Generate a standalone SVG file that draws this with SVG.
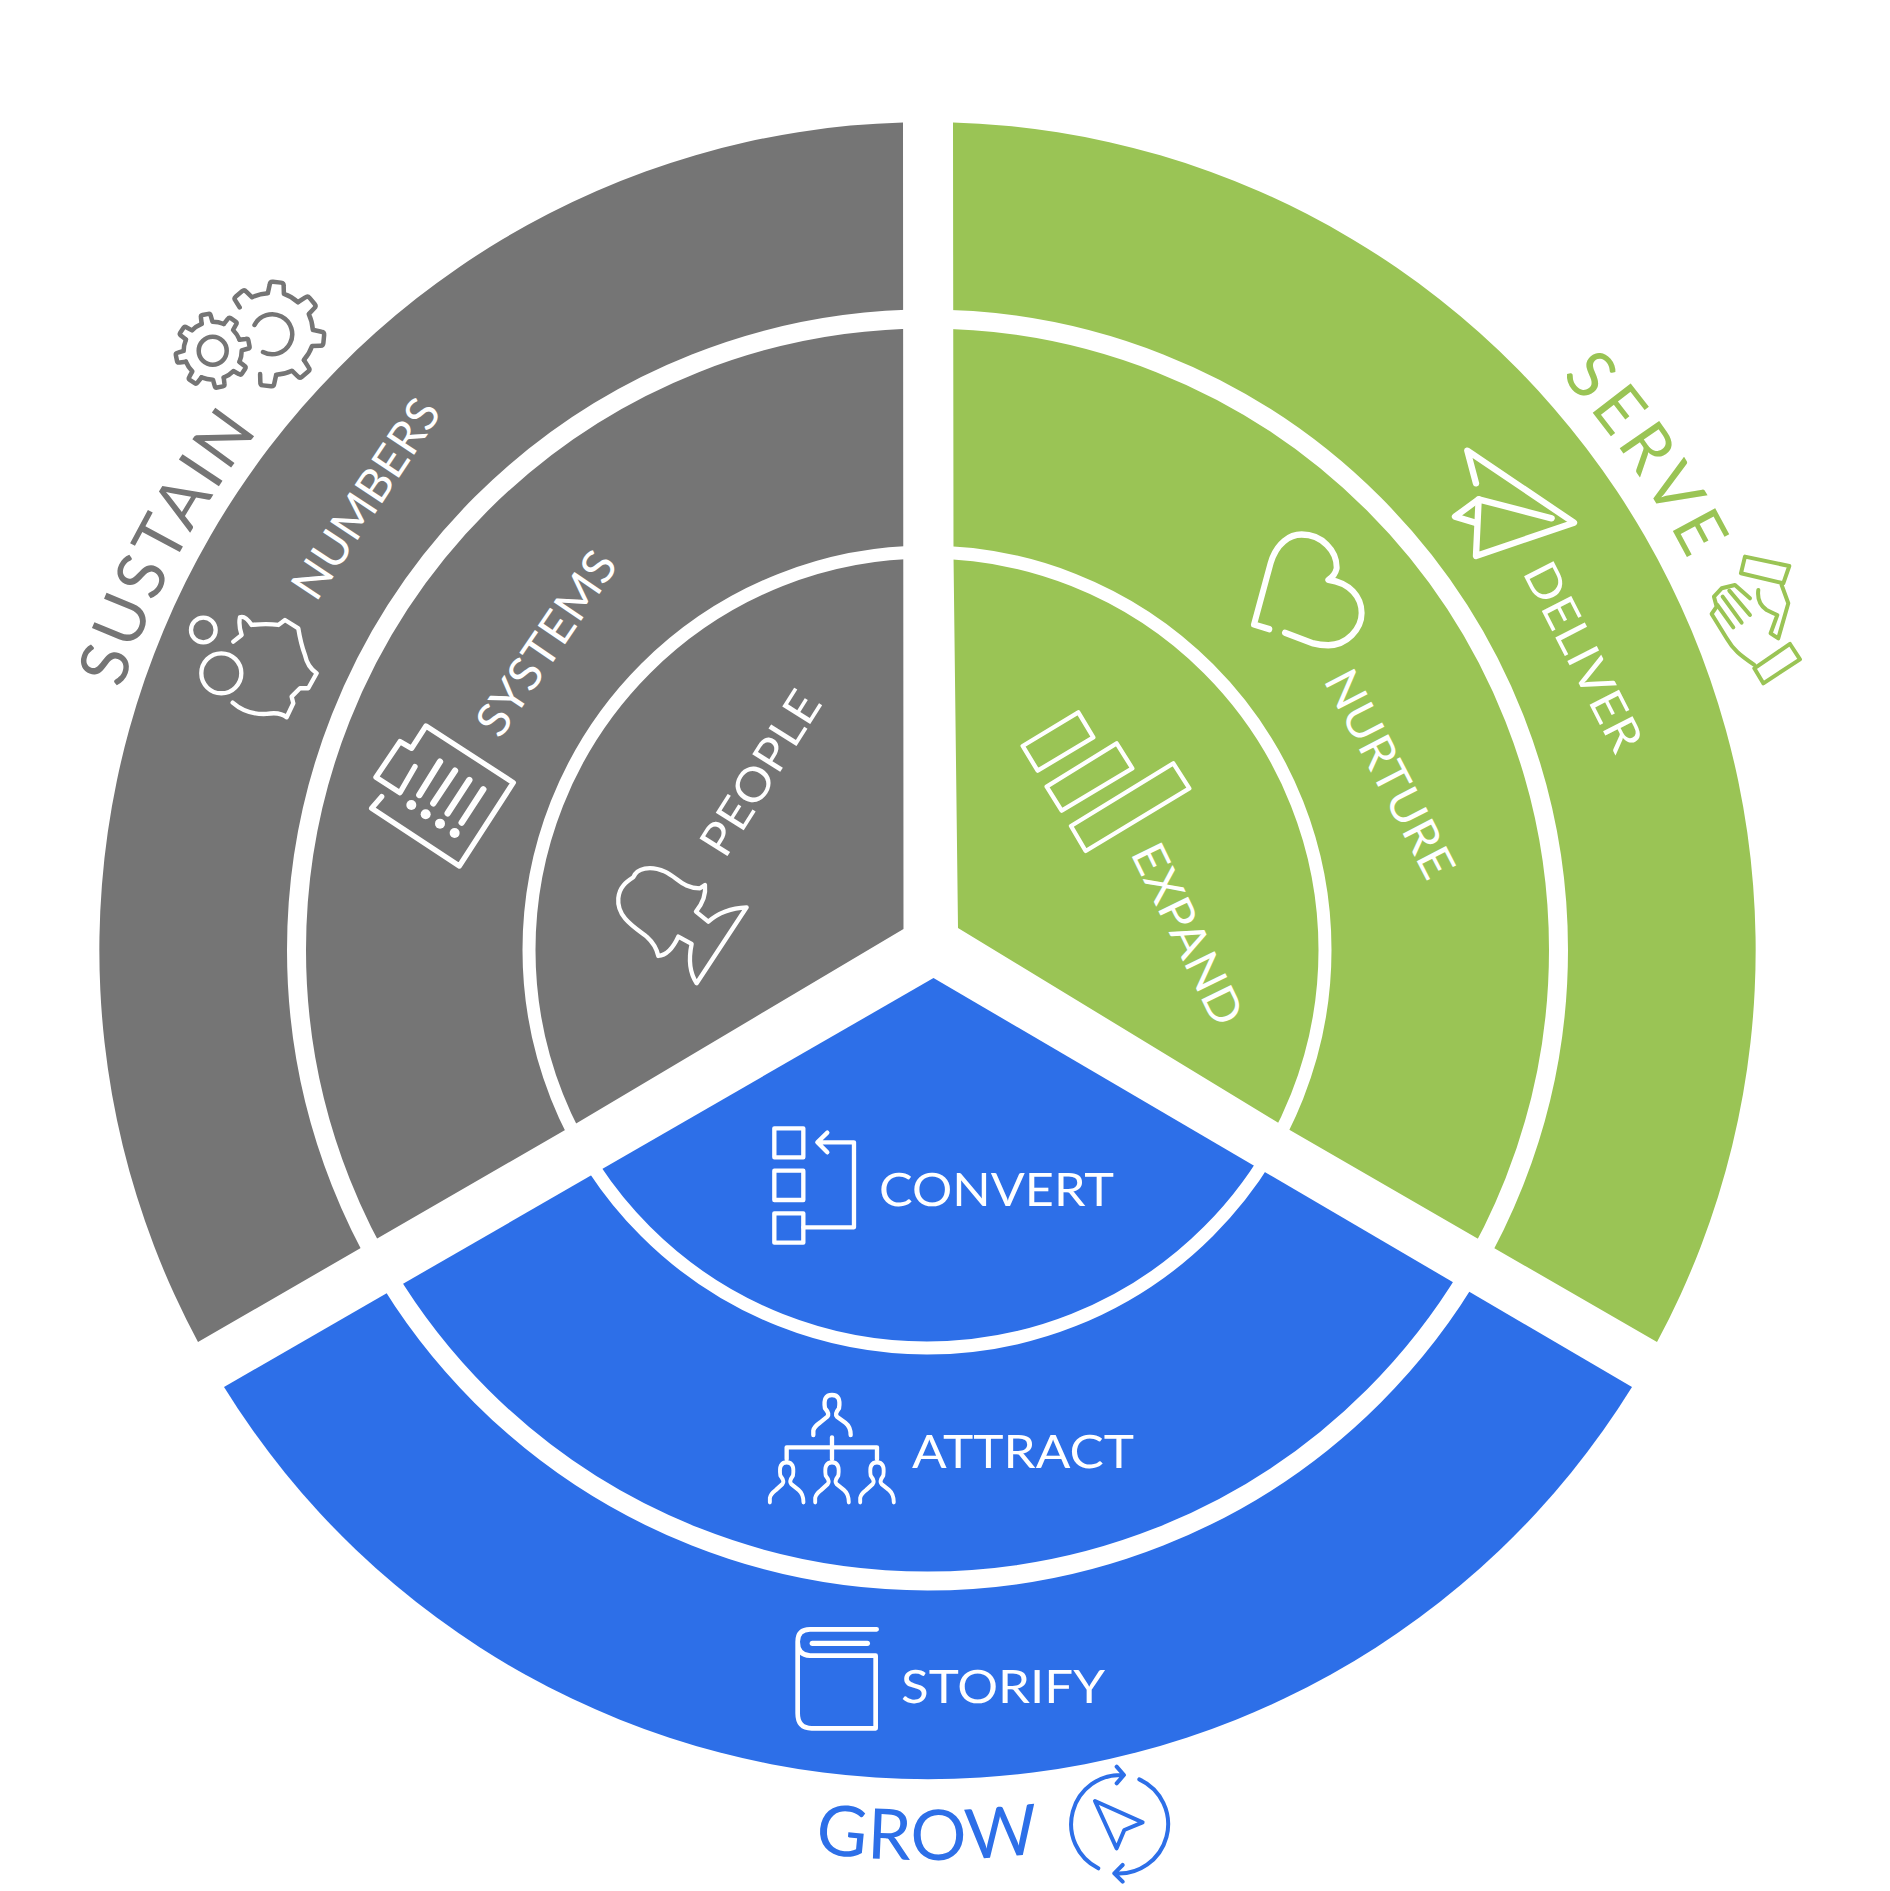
<svg xmlns="http://www.w3.org/2000/svg" xmlns:xlink="http://www.w3.org/1999/xlink" width="1890" height="1891" viewBox="0 0 1890 1891">
<style>
.w{fill:none;stroke:#fff;stroke-linecap:round;stroke-linejoin:round}
.g{fill:none;stroke:#757575;stroke-width:4.5;stroke-linecap:round;stroke-linejoin:round}
.gr{fill:none;stroke:#9ac455;stroke-linecap:round;stroke-linejoin:round}
.bl{fill:none;stroke:#2d6fe8;stroke-linecap:round;stroke-linejoin:round}
.t{font-family:Lato,"Liberation Sans",sans-serif;font-weight:400;font-size:46px;fill:#fff}
.o{font-family:Lato,"Liberation Sans",sans-serif;font-weight:400;font-size:67px}
text{text-rendering:geometricPrecision}
</style>
<defs>
<path id="arcTop850" d="M80.5,950A847,847 0 0 1 1774.5,950"/>
<path id="arcTop855" d="M72.5,950A855,855 0 0 1 1782.5,950"/>
<path id="arcBot910" d="M17.5,950A910,910 0 0 0 1837.5,950"/>
<path id="gearBig" d="M-8,-41L-7,-49Q-7,-52 -4,-52L4,-52Q7,-52 7,-49L8,-41A41,41 0 0 1 22.8,-34.1"/>
<path id="toothBig" d="M-8,-41L-7,-49Q-7,-52 -4,-52L4,-52Q7,-52 7,-49L8,-41"/>
<path id="gearSmall" d="M-5.5,-28.5L-5,-34.5Q-5,-37 -3,-37L3,-37Q5,-37 5,-34.5L5.5,-28.5A29,29 0 0 1 16.25,-24"/>
<path id="person" d="M220,1005V992Q222,980 240,968L262,950Q270,942 255,925Q248,885 276,885Q304,885 297,925Q283,942 291,950L316,968Q332,980 332,1005"/>
</defs>
<g id="sectors">
<path id="sector-sustain" fill="#757575" d="M903.5,929L566,1129.5L572,1126L198,1342A828,828 0 0 1 903,122.4Z"/>
<path id="sector-serve" fill="#9ac455" d="M953,122.4A828,828 0 0 1 1657,1342L1288,1129L1277,1122L958,928L953.5,555Z"/>
<path id="sector-grow" fill="#2d6fe8" d="M933.5,978L1632,1387A828,828 0 0 1 224,1387Z"/>
<circle cx="927.5" cy="950" r="631" fill="none" stroke="#fff" stroke-width="19"/>
<circle cx="927" cy="950" r="398" fill="none" stroke="#fff" stroke-width="13"/>
</g>
<g id="sustain">
<text class="o" fill="#757575"><textPath xlink:href="#arcTop850" href="#arcTop850" startOffset="265" letter-spacing="3.5">SUSTAIN</textPath></text>
<g transform="translate(272,334)" class="g">
<use href="#gearBig" transform="rotate(320.5)"/><use href="#gearBig" transform="rotate(5.5)"/><use href="#gearBig" transform="rotate(50.5)"/><use href="#gearBig" transform="rotate(95.5)"/><use href="#gearBig" transform="rotate(140.5)"/><use href="#toothBig" transform="rotate(185.5)"/>
<path d="M-17.5,-9A20,20 0 1 1 -9,18"/>
</g>
<g transform="translate(212.7,350.7)" class="g">
<use href="#gearSmall" transform="rotate(-11.4)"/><use href="#gearSmall" transform="rotate(33.6)"/><use href="#gearSmall" transform="rotate(78.6)"/><use href="#gearSmall" transform="rotate(123.6)"/><use href="#gearSmall" transform="rotate(168.6)"/><use href="#gearSmall" transform="rotate(213.6)"/><use href="#gearSmall" transform="rotate(258.6)"/><use href="#gearSmall" transform="rotate(303.6)"/>
<circle r="14"/>
</g>
</g>
<g id="numbers">
<text class="t" transform="translate(316,603) rotate(-56.5)" textLength="229" lengthAdjust="spacingAndGlyphs">NUMBERS</text>
<g transform="translate(60,260) scale(.3333)" class="w" stroke-width="13">
<circle cx="430" cy="1110" r="37"/><circle cx="484" cy="1240" r="60"/>
<path d="M520,1145L545,1125Q535,1095 540,1072Q555,1065 575,1095Q620,1090 655,1095L675,1080L715,1105Q722,1150 735,1185Q742,1220 770,1240L745,1285L720,1285L695,1310L700,1330L680,1372Q660,1355 620,1362Q560,1365 518,1328"/>
</g>
</g>
<g id="systems">
<text class="t" transform="translate(500,740) rotate(-55.8)" textLength="212" lengthAdjust="spacingAndGlyphs">SYSTEMS</text>
<g transform="translate(350,540) scale(.3333)" class="w" stroke-width="16">
<path d="M95,770L65,805L328,978L490,728L228,558L185,625L150,605L78,712L150,758L195,680"/>
<path stroke-width="19" d="M208,765L270,665M250,790L315,692M293,820L358,720M335,848L400,748"/>
<g fill="#fff" stroke="none"><circle cx="184" cy="795" r="15"/><circle cx="227" cy="823" r="15"/><circle cx="270" cy="851" r="15"/><circle cx="314" cy="879" r="15"/></g>
</g>
</g>
<g id="people">
<text class="t" transform="translate(725,860) rotate(-57.9)" textLength="185" lengthAdjust="spacingAndGlyphs">PEOPLE</text>
<g transform="translate(350,540) scale(.3333)" class="w" stroke-width="13">
<path d="M925,1248Q918,1215 890,1190C850,1160 800,1130 805,1075C808,1040 830,1025 850,1012C860,985 900,975 945,995C985,1015 1000,1045 1050,1045L1065,1035Q1070,1075 1038,1115L1075,1145Q1120,1105 1190,1102L1040,1330C1020,1300 1015,1260 1025,1212L985,1190Q960,1245 925,1248Z"/>
</g>
</g>
<g id="serve">
<text class="o" fill="#9ac455"><textPath xlink:href="#arcTop855" href="#arcTop855" startOffset="2056" letter-spacing="6">SERVE</textPath></text>
<g transform="translate(1420,340) scale(.3333)" class="gr" stroke-width="12">
<path d="M975,650L1108,678L1090,730L963,700Z"/>
<path d="M1110,912L1140,958L1030,1030L1003,985Z"/>
<path d="M1003,975C960,945 940,930 920,895L875,822L890,800L882,770L905,745L945,735L990,775"/>
<path d="M892,795L940,862M908,770L965,848M928,752L990,825"/>
<path d="M1015,750Q1010,790 1040,810Q1060,820 1072,825L1052,880L1075,895L1105,790L1085,735"/>
</g>
</g>
<g id="deliver">
<text class="t" transform="translate(1522,572) rotate(63)" textLength="206" lengthAdjust="spacingAndGlyphs">DELIVER</text>
<g transform="translate(1420,340) scale(.3333)" class="w" stroke-width="19">
<path d="M168,430L142,332L462,548L168,648L176,478L395,535"/>
<path d="M176,478L105,530L165,548"/>
</g>
</g>
<g id="nurture">
<text class="t" transform="translate(1323,680) rotate(62.6)" textLength="228" lengthAdjust="spacingAndGlyphs">NURTURE</text>
<g transform="translate(1000,340) scale(.3333,.357)" class="w" stroke-width="18">
<path d="M808,810L762,797L812,625C830,568 870,545 905,545C965,545 1012,590 1010,640Q1005,660 985,672C1050,680 1085,720 1085,765C1085,810 1040,855 985,855Q960,855 940,850L855,820"/>
</g>
</g>
<g id="expand">
<text class="t" transform="translate(1130,853) rotate(64)" textLength="196" lengthAdjust="spacingAndGlyphs">EXPAND</text>
<g transform="translate(960,680) scale(.3333)" class="w" stroke-width="13">
<path d="M188,198L355,97L400,172L233,272Z"/><path d="M260,320L470,190L517,265L305,392Z"/><path d="M333,438L640,250L688,325L377,513Z"/>
</g>
</g>
<g id="convert">
<text class="t" x="879" y="1206" textLength="235" lengthAdjust="spacingAndGlyphs">CONVERT</text>
<g transform="translate(740,1100) scale(.3333)" class="w" stroke-width="13">
<rect x="103" y="85" width="87" height="87"/><rect x="103" y="212" width="87" height="88"/><rect x="103" y="340" width="87" height="88"/>
<path d="M190,382L342,382L342,127L235,127M262,98L232,127L262,157"/>
</g>
</g>
<g id="attract">
<text class="t" x="912" y="1468" textLength="222" lengthAdjust="spacingAndGlyphs">ATTRACT</text>
<g transform="translate(740,1100) scale(.3333)" class="w" stroke-width="13">
<use href="#person"/><use href="#person" transform="translate(-108.4,202) scale(.9,1)"/><use href="#person" transform="translate(27.6,202) scale(.9,1)"/><use href="#person" transform="translate(162.6,202) scale(.9,1)"/>
<path d="M140,1078V1042H411V1078M276,1012V1078"/>
</g>
</g>
<g id="storify">
<text class="t" x="901" y="1703" textLength="204" lengthAdjust="spacingAndGlyphs">STORIFY</text>
<g transform="translate(780,1600) scale(.3333)" class="w" stroke-width="14">
<path d="M290,88L90,88Q53,88 53,125Q53,165 90,167L287,167L287,385L95,385Q53,385 53,340L53,125"/>
<path stroke-width="16" d="M97,130L262,130"/>
</g>
</g>
<g id="grow">
<text font-family="Lato,'Liberation Sans',sans-serif" font-size="70" font-weight="400" letter-spacing="1" fill="#2d6fe8" text-anchor="middle"><textPath xlink:href="#arcBot910" href="#arcBot910" startOffset="50%">GROW</textPath></text>
<g transform="translate(780,1600) scale(.3333)" class="bl" stroke-width="12">
<path d="M955,805A148,148 0 0 1 1030,525M1010,500L1032,525L1010,550"/>
<path d="M1078,538A148,148 0 0 1 1003,820M1028,795L1003,820L1028,845"/>
<path d="M945,603L1088,667L1033,690L1010,745Z"/>
</g>
</g>
</svg>
